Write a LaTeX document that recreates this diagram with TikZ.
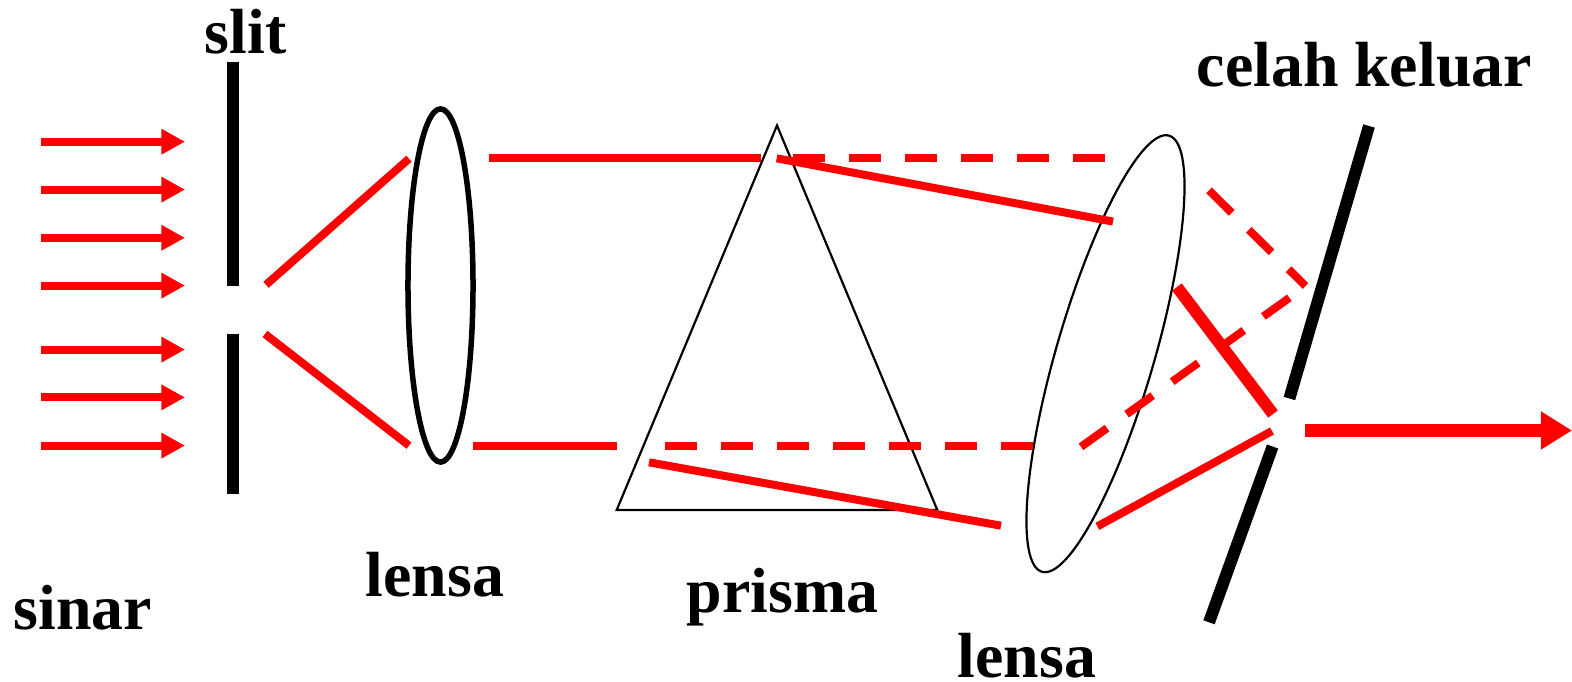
\documentclass[tikz,border=0pt]{standalone}
\usepackage{fontspec}
\setmainfont{Liberation Serif}
\usetikzlibrary{arrows.meta}
\tikzset{
  sinar/.style={red,line width=0.08cm},
  putus/.style={sinar,dash pattern=on 0.32cm off 0.24cm},
  masuk/.style={red,line width=0.08cm,-{Triangle[length=0.235cm,width=0.24cm]}},
  celah/.style={black,line width=0.12cm},
  label/.style={inner sep=0pt,anchor=base west,font=\fontsize{18.15}{20}\selectfont\bfseries},
}
\begin{document}
\begin{tikzpicture}[x=0.01cm,y=-0.01cm]
                \useasboundingbox (0,0) rectangle (1572,682);
                \node (slit) at (204,54) [label] {slit};
                \node (sinar) at (13,629) [label] {sinar};
                \node (lensakiri) at (365,596) [label] {lensa};
                \node (prisma) at (686,612) [label] {prisma};
                \node (lensakanan) at (957,677) [label] {lensa};
                \node (keluar) at (1196,87) [label] {celah keluar};
                \foreach \y in {141.7,189.6,237.8,285.6,349.6,397.4,445.6} {
                  \draw [masuk] (41,\y) -- (185,\y);
                }
                \draw [celah] (233,62) -- (233,285.6);
                \draw [celah] (233,334) -- (233,493.5);
                \draw [celah] (1369,126) -- (1289.4,398.5);
                \draw [celah] (1272.6,446.5) -- (1209,622.3);
                \draw [line width=0.055cm] (440.5,285.5) ellipse (0.325cm and 1.765cm);
                \draw [line width=0.022cm,rotate around={-16.25:(1105.5,353.7)}] (1105.5,353.7) ellipse (0.489cm and 2.27cm);
                \draw [line width=0.022cm] (777,125.5) -- (937.3,510) -- (616.7,510) -- cycle;
                \draw [sinar] (266,284.8) -- (409,158.7);
                \draw [sinar] (265,334) -- (409,445.6);
                \draw [sinar] (489,158) -- (761,158);
                \draw [putus] (793,158) -- (1105,158);
                \draw [sinar] (473,445.6) -- (617,445.6);
                \draw [putus] (665,445.6) -- (1033,445.6);
                \draw [sinar] (776.7,158.3) -- (1113,221.6);
                \draw [sinar] (649,462.3) -- (1001,525.7);
                \draw [putus] (1209,190.3) -- (1305.5,286);
                \draw [putus] (1081,446.8) -- (1289.4,297.8);
                \draw [red,line width=0.12cm] (1177,287) -- (1273,414);
                \draw [sinar] (1272,431) -- (1097.4,526.4);
                \draw [red,line width=0.12cm,-{Triangle[length=0.31cm,width=0.36cm]}] (1305,430.5) -- (1572,430.5);
\end{tikzpicture}
\end{document}
